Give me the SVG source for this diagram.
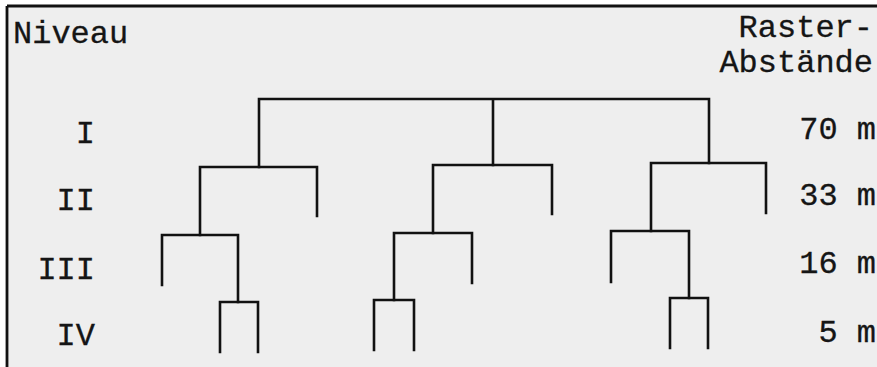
<svg xmlns="http://www.w3.org/2000/svg" width="877" height="367" viewBox="0 0 877 367">
<style>
.t{font-family:"Liberation Mono","Courier New",monospace;font-size:32px;fill:#151515;stroke:#151515;stroke-width:0.3}
.e{text-anchor:end}
.ln{fill:none;stroke:#111;stroke-width:2.6;stroke-linecap:square;stroke-linejoin:miter}
</style>
<rect x="0" y="0" width="877" height="367" fill="#ffffff"/>
<rect x="7" y="6" width="870" height="361" fill="#eeeeee"/>
<path d="M7 6H877M7 6V367" fill="none" stroke="#111" stroke-width="2.8"/>
<g id="headers">
<text class="t" x="13" y="43">Niveau</text>
<text class="t e" x="873" y="37">Raster-</text>
<text class="t e" x="873" y="72">Abstände</text>
</g>
<g id="levels">
<text class="t e" x="95" y="143">I</text>
<text class="t e" x="95" y="210">II</text>
<text class="t e" x="95" y="279">III</text>
<text class="t e" x="95" y="345">IV</text>
</g>
<g id="spacings">
<text class="t e" x="876" y="139">70 m</text>
<text class="t e" x="876" y="205">33 m</text>
<text class="t e" x="876" y="273">16 m</text>
<text class="t e" x="876" y="342">5 m</text>
</g>
<g id="connectors">
<g id="level-I"><path class="ln" d="M259 167V99H709V163M493 99V165"/></g>
<g id="level-II-a"><path class="ln" d="M200 235V167H317V216"/></g>
<g id="level-II-b"><path class="ln" d="M433 233V165H552V214"/></g>
<g id="level-II-c"><path class="ln" d="M651 231V163H766V213"/></g>
<g id="level-III-a"><path class="ln" d="M162 285V235H238V302"/></g>
<g id="level-III-b"><path class="ln" d="M394 300V233H472V283"/></g>
<g id="level-III-c"><path class="ln" d="M611 282V231H689V298"/></g>
<g id="level-IV-a"><path class="ln" d="M220 352V302H258V352"/></g>
<g id="level-IV-b"><path class="ln" d="M374 350V300H414V350"/></g>
<g id="level-IV-c"><path class="ln" d="M670 348V298H708V348"/></g>
</g>
</svg>
